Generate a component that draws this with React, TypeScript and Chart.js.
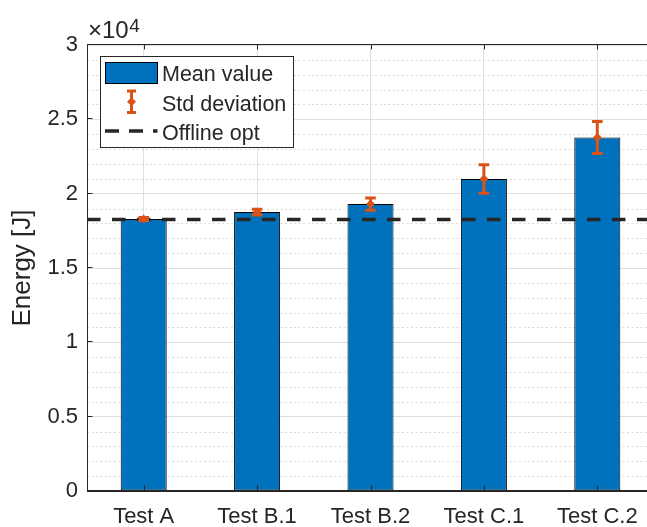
import React, { useEffect, useRef } from 'react';
import { Chart, registerables } from 'chart.js';

Chart.register(...registerables);

const categories = ['Test A', 'Test B.1', 'Test B.2', 'Test C.1', 'Test C.2'];
const meanValues = [18300, 18760, 19300, 20990, 23780];
const stdValues = [100, 200, 410, 960, 1080];
const offlineOpt = 18260;
const yTickValues = [0, 5000, 10000, 15000, 20000, 25000, 30000];
const legendLabels = ['Mean value', 'Std deviation', 'Offline opt'];
const yTitle = 'Energy [J]';
const exponentBase = '\u00d710';
const exponentPower = '4';

const BLUE = '#0072BD';
const ORANGE = '#D95319';
const AXIS = '#262626';
const GRID = '#dfdfdf';
const MINOR = '#dadada';
const FONT = '"Liberation Sans", Arial, Helvetica, sans-serif';

function drawErrorBar(ctx: CanvasRenderingContext2D, px: number, top: number, bot: number, c: number, capHalf: number) {
  ctx.save();
  ctx.strokeStyle = ORANGE;
  ctx.fillStyle = ORANGE;
  ctx.lineWidth = 3;
  ctx.setLineDash([]);
  ctx.beginPath();
  ctx.moveTo(px, top);
  ctx.lineTo(px, bot);
  ctx.moveTo(px - capHalf, top);
  ctx.lineTo(px + capHalf, top);
  ctx.moveTo(px - capHalf, bot);
  ctx.lineTo(px + capHalf, bot);
  ctx.stroke();
  ctx.beginPath();
  ctx.moveTo(px, c - 4.5);
  ctx.lineTo(px + 4.5, c);
  ctx.lineTo(px, c + 4.5);
  ctx.lineTo(px - 4.5, c);
  ctx.closePath();
  ctx.fill();
  ctx.restore();
}

const decorPlugin = {
  id: 'decor',
  beforeDatasetsDraw(chart: any) {
    const { ctx, chartArea: a, scales } = chart;
    const y = scales.y;
    ctx.save();
    ctx.strokeStyle = MINOR;
    ctx.lineWidth = 1;
    ctx.setLineDash([2, 2.5]);
    for (let v = 1000; v < 30000; v += 1000) {
      if (v % 5000 === 0) continue;
      const py = Math.round(y.getPixelForValue(v)) + 0.5;
      ctx.beginPath();
      ctx.moveTo(a.left, py);
      ctx.lineTo(a.right, py);
      ctx.stroke();
    }
    ctx.restore();
  },
  afterDatasetsDraw(chart: any) {
    const { ctx, chartArea: a, scales } = chart;
    const x = scales.x;
    const y = scales.y;
    ctx.save();
    const oy = y.getPixelForValue(offlineOpt);
    ctx.strokeStyle = AXIS;
    ctx.lineWidth = 3.5;
    ctx.setLineDash([13.5, 11.5]);
    ctx.beginPath();
    ctx.moveTo(a.left, oy);
    ctx.lineTo(a.right, oy);
    ctx.stroke();
    ctx.restore();

    meanValues.forEach((m, i) => {
      const px = x.getPixelForValue(i);
      drawErrorBar(
        ctx,
        px,
        y.getPixelForValue(m + stdValues[i]),
        y.getPixelForValue(m - stdValues[i]),
        y.getPixelForValue(m),
        5.3
      );
    });

    ctx.save();
    ctx.strokeStyle = AXIS;
    ctx.lineWidth = 1;
    ctx.setLineDash([]);
    const L = Math.round(a.left) + 0.5;
    const T = Math.round(a.top) - 0.5;
    const B = Math.round(a.bottom) - 0.5;
    ctx.beginPath();
    ctx.moveTo(L, T);
    ctx.lineTo(a.right, T);
    ctx.moveTo(L, T);
    ctx.lineTo(L, B);
    ctx.lineTo(a.right, B);
    yTickValues.forEach((v) => {
      const py = Math.round(y.getPixelForValue(v)) - 0.5;
      ctx.moveTo(L, py);
      ctx.lineTo(L + 5, py);
    });
    categories.forEach((_, i) => {
      const px = Math.round(x.getPixelForValue(i)) + 0.5;
      ctx.moveTo(px, B);
      ctx.lineTo(px, B - 5);
      ctx.moveTo(px, T);
      ctx.lineTo(px, T + 5);
    });
    ctx.stroke();
    ctx.restore();
  },
  afterDraw(chart: any) {
    const { ctx } = chart;
    ctx.save();
    ctx.fillStyle = AXIS;
    ctx.textAlign = 'left';
    ctx.textBaseline = 'alphabetic';
    ctx.font = `24px ${FONT}`;
    ctx.fillText(exponentBase, 88, 38);
    const w = ctx.measureText(exponentBase).width;
    ctx.font = `19px ${FONT}`;
    ctx.fillText(exponentPower, 88 + w + 0.5, 32);

    const lx = 100.5, ly = 56.5, lw = 193, lh = 91;
    ctx.fillStyle = '#ffffff';
    ctx.fillRect(lx, ly, lw, lh);
    ctx.strokeStyle = AXIS;
    ctx.lineWidth = 1;
    ctx.setLineDash([]);
    ctx.strokeRect(lx, ly, lw, lh);

    ctx.fillStyle = BLUE;
    ctx.fillRect(105.5, 62.5, 52, 21);
    ctx.strokeStyle = '#000';
    ctx.strokeRect(105.5, 62.5, 52, 21);

    drawErrorBar(ctx, 131.5, 91, 112.5, 101.8, 4.5);

    ctx.strokeStyle = AXIS;
    ctx.lineWidth = 3.5;
    ctx.setLineDash([14, 10]);
    ctx.beginPath();
    ctx.moveTo(105, 131);
    ctx.lineTo(157.5, 131);
    ctx.stroke();
    ctx.setLineDash([]);

    ctx.fillStyle = AXIS;
    ctx.font = `21.5px ${FONT}`;
    ctx.fillText(legendLabels[0], 162, 81);
    ctx.fillText(legendLabels[1], 162, 110.5);
    ctx.fillText(legendLabels[2], 162, 139.5);
    ctx.restore();
  },
};

export default function App() {
  const ref = useRef<HTMLCanvasElement | null>(null);
  useEffect(() => {
    if (!ref.current) return;
    const chart = new Chart(ref.current, {
      type: 'bar',
      data: {
        labels: categories,
        datasets: [
          {
            label: legendLabels[0],
            data: meanValues,
            backgroundColor: BLUE,
            borderColor: '#000000',
            borderWidth: 1,
            borderSkipped: false,
            barPercentage: 0.406,
            categoryPercentage: 1,
          },
        ],
      },
      options: {
        responsive: false,
        animation: false,
        devicePixelRatio: 1,
        layout: { padding: { top: 45, right: 6, left: 0, bottom: 0 } },
        plugins: { legend: { display: false }, tooltip: { enabled: false } },
        scales: {
          x: {
            grid: { offset: false, color: GRID, drawTicks: false },
            border: { display: true, color: AXIS, width: 1 },
            ticks: { font: { size: 22, family: FONT }, color: AXIS, padding: 13, maxRotation: 0, autoSkip: false },
            afterFit: (s: any) => { s.height = 36; },
          },
          y: {
            min: 0,
            max: 30000,
            grid: { color: GRID, drawTicks: false },
            border: { display: true, color: AXIS, width: 1 },
            ticks: {
              stepSize: 5000,
              autoSkip: false,
              font: { size: 22, family: FONT },
              color: AXIS,
              padding: 9,
              callback: (v: any) => String(Number(v) / 10000),
            },
            title: {
              display: true,
              text: yTitle,
              font: { size: 26, family: FONT },
              color: AXIS,
              padding: { top: 7, bottom: 0 },
            },
            afterFit: (s: any) => { s.width = 87; },
          },
        },
      },
      plugins: [decorPlugin],
    });
    return () => chart.destroy();
  }, []);
  return (
    <div style={{ position: 'fixed', left: 0, top: 0, width: 647, height: 527, overflow: 'hidden', background: '#fff' }}>
      <canvas ref={ref} width={660} height={527} style={{ display: 'block', width: 660, height: 527 }} />
    </div>
  );
}
